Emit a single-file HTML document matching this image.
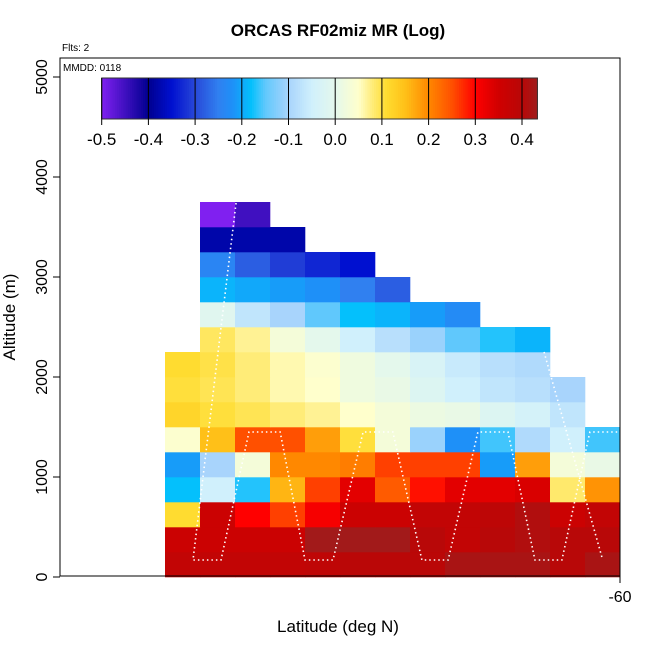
<!DOCTYPE html>
<html><head><meta charset="utf-8"><style>
body{margin:0;background:#fff;font-family:"Liberation Sans",sans-serif}
svg text{font-family:"Liberation Sans",sans-serif}
</style></head><body>
<svg id="c" width="650" height="650" viewBox="0 0 650 650">
<text x="338" y="36" text-anchor="middle" font-weight="bold" font-size="17">ORCAS RF02miz MR (Log)</text>
<text x="62" y="51" font-size="10">Flts: 2</text>
<g id="cells"></g>
<g id="track"></g>
<rect x="60" y="58" width="560" height="518" fill="none" stroke="#000" stroke-width="1"/>
<text x="63" y="71" font-size="10">MMDD: 0118</text>
<g id="cbar"></g>
<g id="axes"></g>
<text x="338" y="632" text-anchor="middle" font-size="17">Latitude (deg N)</text>
<text transform="translate(15,317) rotate(-90)" text-anchor="middle" font-size="17">Altitude (m)</text>
</svg>
<script>
// Heatmap rows: bottom (0-250 m) upward, 250 m bins; columns start at lat -73, 1 deg wide
const rowStartCol = [0,0,0,0,0,0,0,0,0,1,1,1,1,1,1];
const cellValues = [
 [0.38,0.38,0.38,0.38,0.385,0.395,0.395,0.395,0.42,0.42,0.42,0.40,0.42],
 [0.36,0.36,0.36,0.36,0.43,0.43,0.43,0.40,0.38,0.40,0.41,0.40,0.40],
 [0.11,0.36,0.30,0.26,0.31,0.36,0.36,0.38,0.38,0.39,0.41,0.36,0.38],
 [-0.18,-0.05,-0.17,0.16,0.26,0.33,0.24,0.29,0.33,0.33,0.34,0.085,0.19],
 [-0.21,-0.10,0.03,0.20,0.20,0.21,0.26,0.26,0.26,-0.21,0.18,0.03,0.01],
 [0.045,0.15,0.25,0.25,0.18,0.105,0.03,-0.11,-0.22,-0.16,-0.09,-0.05,-0.16],
 [0.12,0.105,0.095,0.08,0.07,0.05,0.03,0.015,0.01,-0.02,-0.04,-0.07],
 [0.105,0.095,0.08,0.06,0.05,0.02,0.01,-0.02,-0.05,-0.07,-0.08,-0.10],
 [0.11,0.10,0.08,0.06,0.045,0.02,0.0,-0.03,-0.06,-0.08,-0.09],
 [0.09,0.07,0.03,0.0,-0.05,-0.08,-0.11,-0.15,-0.17,-0.19],
 [-0.01,-0.07,-0.10,-0.15,-0.18,-0.19,-0.21,-0.23],
 [-0.19,-0.20,-0.21,-0.22,-0.25,-0.28],
 [-0.24,-0.28,-0.31,-0.33,-0.35],
 [-0.38,-0.38,-0.38],
 [-0.50,-0.45]
];
const colorStops = [[-0.5,"#8020F0"],[-0.45,"#4010C0"],[-0.4,"#000090"],[-0.35,"#0010D0"],[-0.3,"#2848D8"],[-0.25,"#3080F0"],[-0.22,"#1E90F8"],[-0.18,"#04C0FC"],[-0.15,"#60C8FC"],[-0.1,"#A8D4FC"],[-0.05,"#D0F0FC"],[0,"#E4F8EC"],[0.05,"#FFFFCC"],[0.08,"#FFEC78"],[0.11,"#FFDC30"],[0.15,"#FFC018"],[0.2,"#FF8800"],[0.25,"#FF5000"],[0.3,"#FF0000"],[0.35,"#D00000"],[0.4,"#B80808"],[0.433,"#A01C1C"]];
const cbarTicks = [-0.5,-0.4,-0.3,-0.2,-0.1,0.0,0.1,0.2,0.3,0.4];
const yTicks = [0,1000,2000,3000,4000,5000];
const xTicks = [-60];
const flight1Lat = [-70.97,-72.2,-71.4,-70.6,-69.71,-69.0,-68.2,-67.34,-66.49,-65.66,-64.91,-64.06,-63.2,-62.43,-61.66,-60.86,-60];
const flight1Alt = [3740,170,170,1450,1450,170,170,1450,1450,170,170,1450,1450,170,170,1450,1450];
const flight2Lat = [-62.17,-60.51];
const flight2Alt = [2250,190];

const NS="http://www.w3.org/2000/svg";
const xS = lat => 620 - (-60 - lat)*35;
const yS = alt => 577 - alt*0.1;
function hx(h){return [1,3,5].map(i=>parseInt(h.substr(i,2),16));}
function colorFor(v){
  if(v<=colorStops[0][0]) return colorStops[0][1];
  for(let i=1;i<colorStops.length;i++){
    if(v<=colorStops[i][0]){
      const [a,ca]=colorStops[i-1],[b,cb]=colorStops[i];
      const t=(v-a)/(b-a),A=hx(ca),B=hx(cb);
      return "rgb("+A.map((x,k)=>Math.round(x+(B[k]-x)*t)).join(",")+")";
    }
  }
  return colorStops[colorStops.length-1][1];
}
function mk(tag,attrs,parent){const e=document.createElementNS(NS,tag);for(const k in attrs)e.setAttribute(k,attrs[k]);parent.appendChild(e);return e;}
const cells=document.getElementById('cells');
cellValues.forEach((row,r)=>{row.forEach((v,i)=>{
  const lat=-73+rowStartCol[r]+i;
  const e=mk('rect',{x:xS(lat),y:yS((r+1)*250),width:35.3,height:25.3,fill:colorFor(v)},cells);
  
  
});});
const track=document.getElementById('track');
[[flight1Lat,flight1Alt],[flight2Lat,flight2Alt]].forEach(([la,al])=>{
  const e=mk('polyline',{points:la.map((l,i)=>xS(l)+","+yS(al[i])).join(" "),fill:"none",stroke:"#fff","stroke-width":1.6,"stroke-dasharray":"1.5 3"},track);
  
  
});
// colorbar
const cb=document.getElementById('cbar');
const cx=v=>101.7+(v+0.5)*467;
const N=200,v0=-0.5,v1=0.433;
for(let i=0;i<N;i++){const v=v0+(v1-v0)*(i+0.5)/N;const x=cx(v0+(v1-v0)*i/N);
  mk('rect',{x:x,y:78,width:(cx(v1)-cx(v0))/N+0.5,height:41,fill:colorFor(v)},cb);}
mk('rect',{x:cx(v0),y:78,width:cx(v1)-cx(v0),height:41,fill:"none",stroke:"#333","stroke-width":1},cb);
cbarTicks.forEach(t=>{
  mk('line',{x1:cx(t),x2:cx(t),y1:78,y2:125,stroke:"#000","stroke-width":1},cb);
  const tx=mk('text',{x:cx(t),y:145,"text-anchor":"middle","font-size":17},cb);tx.textContent=t.toFixed(1);
  
  
});
// axes
const ax=document.getElementById('axes');
yTicks.forEach(t=>{
  mk('line',{x1:53,x2:60,y1:yS(t),y2:yS(t),stroke:"#000"},ax);
  const tx=mk('text',{transform:"translate(47,"+yS(t)+") rotate(-90)","text-anchor":"middle","font-size":16},ax);tx.textContent=t;
  
  
});
xTicks.forEach(t=>{
  mk('line',{x1:xS(t),x2:xS(t),y1:576,y2:583,stroke:"#000"},ax);
  const tx=mk('text',{x:xS(t),y:602,"text-anchor":"middle","font-size":16},ax);tx.textContent=t;
  
  
});
</script>
</body></html>
